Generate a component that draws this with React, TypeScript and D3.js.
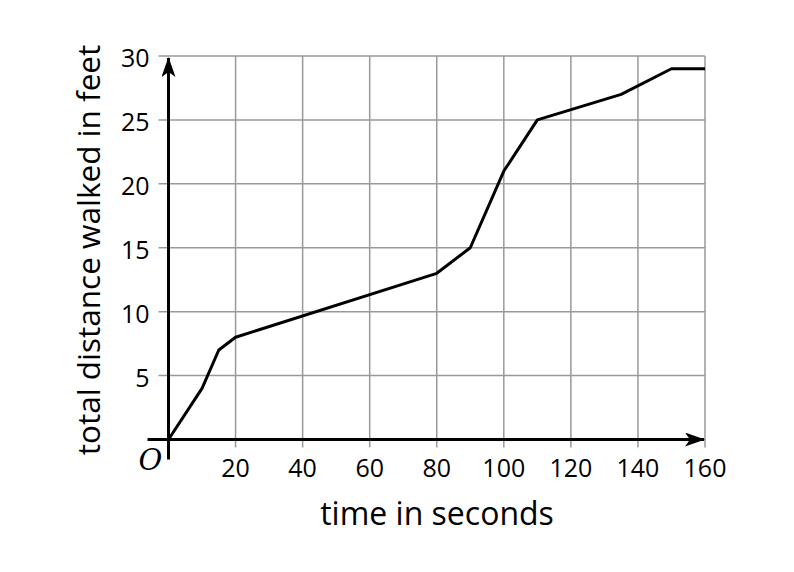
import { useEffect, useRef } from "react";
import * as d3 from "d3";

const times = [0, 10, 15, 20, 80, 90, 100, 110, 135, 150, 160];
const distances = [0, 4, 7, 8, 13, 15, 21, 25, 27, 29, 29];
const xTicks = [20, 40, 60, 80, 100, 120, 140, 160];
const yTicks = [5, 10, 15, 20, 25, 30];
const xGrid = [20, 40, 60, 80, 100, 120, 140, 160];
const yGrid = [5, 10, 15, 20, 25, 30];

const App = () => {
  const ref = useRef(null);

  useEffect(() => {
    const svg = d3.select(ref.current);
    svg.selectAll("*").remove();

    const x = d3.scaleLinear().domain([0, 160]).range([168.5, 705]);
    const y = d3.scaleLinear().domain([0, 30]).range([439.5, 56]);
    const font = "'Open Sans', sans-serif";

    // grid
    svg
      .append("g")
      .selectAll("line")
      .data(xGrid)
      .join("line")
      .attr("x1", (d) => x(d))
      .attr("x2", (d) => x(d))
      .attr("y1", y(30))
      .attr("y2", y(0) + 8)
      .attr("stroke", "#999")
      .attr("stroke-width", 1.5);

    svg
      .append("g")
      .selectAll("line")
      .data(yGrid)
      .join("line")
      .attr("x1", x(0) - 10)
      .attr("x2", x(160))
      .attr("y1", (d) => y(d))
      .attr("y2", (d) => y(d))
      .attr("stroke", "#999")
      .attr("stroke-width", 1.5);

    // arrow marker
    const defs = svg.append("defs");
    defs
      .append("marker")
      .attr("id", "arrow")
      .attr("viewBox", "0 0 20 14")
      .attr("refX", 19)
      .attr("refY", 7)
      .attr("markerWidth", 20)
      .attr("markerHeight", 14)
      .attr("markerUnits", "userSpaceOnUse")
      .attr("orient", "auto")
      .append("path")
      .attr("d", "M0,0 L20,7 L0,14 L5,7 Z")
      .attr("fill", "#000");

    // axes
    svg
      .append("line")
      .attr("x1", x(0) - 21)
      .attr("x2", x(160) - 1)
      .attr("y1", y(0))
      .attr("y2", y(0))
      .attr("stroke", "#000")
      .attr("stroke-width", 3)
      .attr("marker-end", "url(#arrow)");

    svg
      .append("line")
      .attr("x1", x(0))
      .attr("x2", x(0))
      .attr("y1", y(0) + 20)
      .attr("y2", y(30) + 2)
      .attr("stroke", "#000")
      .attr("stroke-width", 3)
      .attr("marker-end", "url(#arrow)");

    // tick labels
    svg
      .append("g")
      .selectAll("text")
      .data(xTicks)
      .join("text")
      .attr("x", (d) => x(d))
      .attr("y", y(0) + 37.5)
      .attr("text-anchor", "middle")
      .style("font-family", font)
      .style("font-size", "25px")
      .text((d) => d);

    svg
      .append("g")
      .selectAll("text")
      .data(yTicks)
      .join("text")
      .attr("x", x(0) - 19)
      .attr("y", (d) => y(d) + 11)
      .attr("text-anchor", "end")
      .style("font-family", font)
      .style("font-size", "25px")
      .text((d) => d);

    svg
      .append("text")
      .attr("x", x(0) - 18)
      .attr("y", y(0) + 30)
      .attr("text-anchor", "middle")
      .style("font-family", "'DejaVu Serif', serif")
      .style("font-style", "italic")
      .style("font-size", "29px")
      .text("O");

    // axis titles
    svg
      .append("text")
      .attr("x", 437)
      .attr("y", 525)
      .attr("text-anchor", "middle")
      .style("font-family", font)
      .style("font-size", "32px")
      .text("time in seconds");

    svg
      .append("text")
      .attr("transform", "translate(100,250) rotate(-90)")
      .attr("text-anchor", "middle")
      .style("font-family", font)
      .style("font-size", "31.5px")
      .text("total distance walked in feet");

    // line
    const line = d3
      .line<number>()
      .x((d) => x(d))
      .y((_, i) => y(distances[i]));

    svg
      .append("path")
      .datum(times)
      .attr("d", line)
      .attr("fill", "none")
      .attr("stroke", "#000")
      .attr("stroke-width", 3)
      .attr("stroke-linejoin", "round");
  }, []);

  return (
    <div style={{ width: "100%" }}>
      <svg
        ref={ref}
        width={794}
        height={572}
        style={{ position: "absolute", left: 0, top: 0, background: "#fff" }}
      ></svg>
    </div>
  );
};

export default App;
